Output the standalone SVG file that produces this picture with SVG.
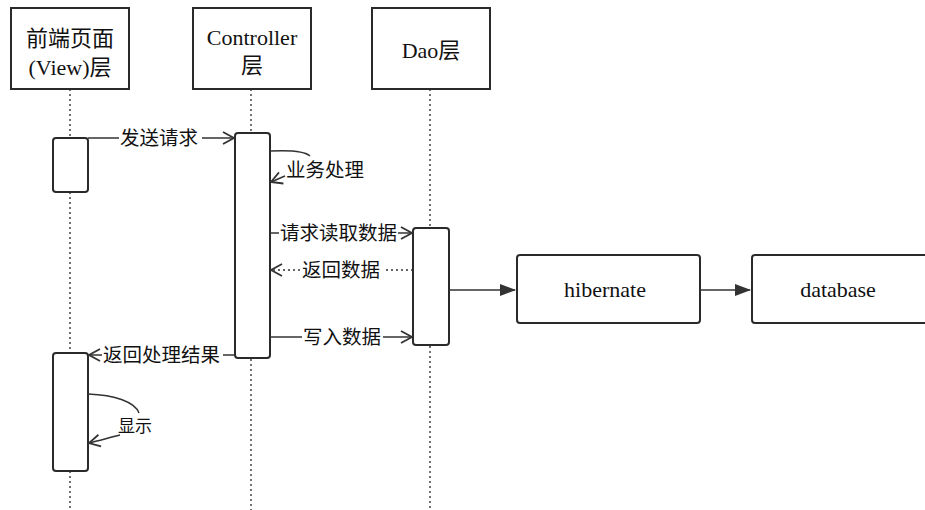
<svg xmlns="http://www.w3.org/2000/svg" width="925" height="510" viewBox="0 0 925 510">
<style>
.hdr{fill:#fff;stroke:#2a2a2a;stroke-width:2}
.act{fill:#fff;stroke:#2a2a2a;stroke-width:2}
.life{stroke:#444;stroke-width:1.5;stroke-dasharray:2 3;fill:none}
.msg{stroke:#333;stroke-width:1.5;fill:none}
.ret{stroke:#333;stroke-width:1.5;fill:none;stroke-dasharray:2 3}
.t{font-family:"Liberation Serif","Times New Roman","DejaVu Serif","Noto Sans CJK SC",serif;fill:#111}
.big{font-size:22px}
.lbl{font-size:19.5px}
</style>
<defs>
<marker id="open" markerWidth="14" markerHeight="14" refX="12" refY="7" orient="auto" markerUnits="userSpaceOnUse">
<path d="M1,1 L12,7 L1,13" fill="none" stroke="#333" stroke-width="1.8"/>
</marker>
<marker id="fill" markerWidth="16" markerHeight="12" refX="15" refY="6" orient="auto" markerUnits="userSpaceOnUse">
<path d="M0,0 L16,6 L0,12 Z" fill="#333"/>
</marker>
</defs>
<rect width="925" height="510" fill="#fff"/>

<g id="lifelines">
<path class="life" d="M70,89 V139 M70,192 V353 M70,471 V510"/>
<path class="life" d="M251,89 V133 M251,359 V510"/>
<path class="life" d="M430,89 V228 M430,346 V510"/>
</g>

<g id="view">
<rect class="hdr" x="11" y="8" width="118" height="81"/>
<text class="t big" x="70" y="46" text-anchor="middle">前端页面</text>
<text class="t big" x="70" y="75" text-anchor="middle">(View)层</text>
</g>
<g id="controller">
<rect class="hdr" x="193" y="8" width="118" height="81"/>
<text class="t big" x="252" y="45" text-anchor="middle">Controller</text>
<text class="t big" x="252" y="73" text-anchor="middle">层</text>
</g>
<g id="dao">
<rect class="hdr" x="372" y="8" width="118" height="81"/>
<text class="t big" x="431" y="58" text-anchor="middle">Dao层</text>
</g>

<g id="view-act1"><rect class="act" x="53" y="138" width="35" height="54" rx="3"/></g>
<g id="controller-act"><rect class="act" x="235" y="133" width="35" height="225" rx="3"/></g>
<g id="dao-act"><rect class="act" x="413" y="228" width="36" height="117" rx="3"/></g>
<g id="view-act2"><rect class="act" x="53" y="353" width="35" height="118" rx="3"/></g>

<g id="hibernate">
<rect class="hdr" x="517" y="255" width="183" height="68" rx="3"/>
<text class="t big" x="605" y="297" text-anchor="middle">hibernate</text>
</g>
<g id="database">
<rect class="hdr" x="752" y="255" width="185" height="68" rx="3"/>
<text class="t big" x="838" y="297" text-anchor="middle">database</text>
</g>

<g id="connectors">
<path class="msg" d="M88,138 H119"/>
<path class="msg" d="M202,138 H234" marker-end="url(#open)"/>
<text class="t lbl" x="120" y="145">发送请求</text>

<path class="msg" d="M270,151 C290,150 305,151 310,156"/>
<path class="msg" d="M285,176 C280,178 276,180 271,182" marker-end="url(#open)"/>
<text class="t lbl" x="286" y="177">业务处理</text>

<path class="msg" d="M270,233 H279"/>
<path class="msg" d="M398,233 H412" marker-end="url(#open)"/>
<text class="t lbl" x="280" y="240">请求读取数据</text>

<path class="ret" d="M413,270 H383"/>
<path class="ret" d="M300,270 H271" marker-end="url(#open)"/>
<text class="t lbl" x="302" y="277">返回数据</text>

<path class="msg" d="M270,337 H302"/>
<path class="msg" d="M383,337 H412" marker-end="url(#open)"/>
<text class="t lbl" x="303" y="344">写入数据</text>

<path class="msg" d="M235,355 H223"/>
<path class="msg" d="M102,355 H89" marker-end="url(#open)"/>
<text class="t lbl" x="103" y="362">返回处理结果</text>

<path class="msg" d="M88,394 C115,395 135,402 139,413"/>
<path class="msg" d="M120,435 C108,438 98,441 89,443" marker-end="url(#open)"/>
<text class="t" style="font-size:17px" x="118" y="432">显示</text>

<path class="msg" d="M449,290 H515" marker-end="url(#fill)"/>
<path class="msg" d="M700,290 H750" marker-end="url(#fill)"/>
</g>
</svg>
